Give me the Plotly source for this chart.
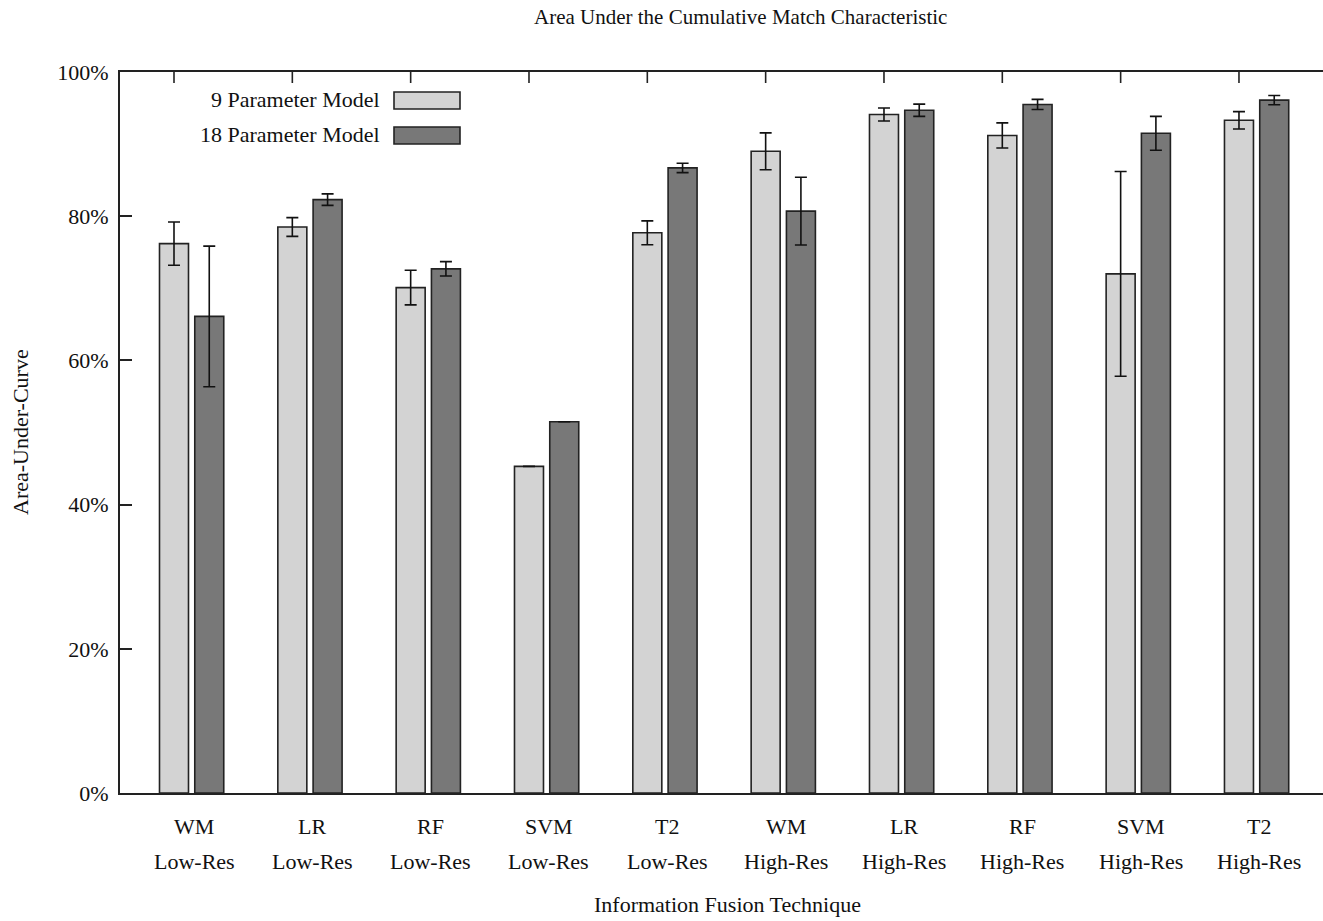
import plotly.graph_objects as go

# Fusion techniques (two-line category labels)
techniques = ["WM", "LR", "RF", "SVM", "T2", "WM", "LR", "RF", "SVM", "T2"]
resolutions = ["Low-Res"] * 5 + ["High-Res"] * 5

# Area under the CMC curve (%) and error half-widths
auc_9 = [76.2, 78.5, 70.1, 45.3, 77.7, 89.0, 94.1, 91.2, 72.0, 93.3]
err_9 = [3.0, 1.3, 2.4, 0.0, 1.65, 2.55, 0.9, 1.75, 14.2, 1.2]
auc_18 = [66.1, 82.3, 72.7, 51.5, 86.7, 80.7, 94.7, 95.5, 91.5, 96.1]
err_18 = [9.75, 0.8, 1.0, 0.0, 0.65, 4.7, 0.85, 0.7, 2.35, 0.65]

series_names = ["9 Parameter Model", "18 Parameter Model"]
y_ticks = [0, 20, 40, 60, 80, 100]

FONT = "Liberation Serif"
FS = 22
INK = "#222222"
LIGHT = "#d3d3d3"
DARK = "#787878"

BAR_W = 0.245
OFFSET = 0.298
PLOT_L, PLOT_R, PLOT_T, PLOT_B = 120, 1323, 72, 793
W, H = 1323, 921

groups = list(range(len(techniques)))
x_light = [g for g in groups]
x_dark = [g + OFFSET for g in groups]

fig = go.Figure()
for xs, vals, errs, color, name in [
    (x_light, auc_9, err_9, LIGHT, series_names[0]),
    (x_dark, auc_18, err_18, DARK, series_names[1]),
]:
    fig.add_trace(go.Bar(
        x=xs, y=vals, width=BAR_W, name=name,
        marker=dict(color=color, line=dict(color=INK, width=1.6)),
        error_y=dict(type="data", array=errs, visible=True,
                     color="#111111", thickness=1.6, width=6),
        showlegend=False,
    ))

# pixel -> axis helpers
px_per_group = 118.33
x0_px = 174.0
x_range = [(PLOT_L - x0_px) / px_per_group, (PLOT_R - x0_px) / px_per_group]
plot_h = PLOT_B - PLOT_T
plot_w = PLOT_R - PLOT_L


def py(p):
    return (PLOT_B - p) / plot_h


def px(p):
    return (p - PLOT_L) / plot_w


shapes = []
# top-edge ticks at the first bar of each cluster
for g in x_light:
    shapes.append(dict(type="line", xref="x", yref="paper", x0=g, x1=g,
                       y0=1, y1=1 - 11 / plot_h,
                       line=dict(color=INK, width=1.6)))

annotations = []
# category labels
for g, t, r in zip(groups, techniques, resolutions):
    xc = g + OFFSET / 2 + 0.02
    annotations.append(dict(x=xc, y=py(826), xref="x", yref="paper", text=t,
                            showarrow=False, xanchor="center", yanchor="middle",
                            font=dict(family=FONT, size=FS, color="#111")))
    annotations.append(dict(x=xc, y=py(861), xref="x", yref="paper", text=r,
                            showarrow=False, xanchor="center", yanchor="middle",
                            font=dict(family=FONT, size=FS, color="#111")))

# legend: text on the left, swatch on the right
for name, color, yc, ytop, ybot in [
    (series_names[0], LIGHT, 100, 92, 109),
    (series_names[1], DARK, 135, 127, 144),
]:
    annotations.append(dict(x=px(382), y=py(yc), xref="paper", yref="paper",
                            text=name, showarrow=False, xanchor="right",
                            yanchor="middle",
                            font=dict(family=FONT, size=FS, color="#111")))
    shapes.append(dict(type="rect", xref="paper", yref="paper",
                       x0=px(394), x1=px(460), y0=py(ybot), y1=py(ytop),
                       fillcolor=color, line=dict(color=INK, width=1.6)))

# titles
annotations.append(dict(x=px(740), y=py(17), xref="paper", yref="paper",
                        text="Area Under the Cumulative Match Characteristic",
                        showarrow=False, xanchor="center", yanchor="middle",
                        font=dict(family=FONT, size=21, color="#111")))
annotations.append(dict(x=px(727), y=py(H - 2), xref="paper", yref="paper",
                        text="Information Fusion Technique",
                        showarrow=False, xanchor="center", yanchor="bottom",
                        font=dict(family=FONT, size=FS, color="#111")))
annotations.append(dict(x=px(20), y=py(432), xref="paper", yref="paper",
                        text="Area-Under-Curve", textangle=-90,
                        showarrow=False, xanchor="center", yanchor="middle",
                        font=dict(family=FONT, size=FS, color="#111")))

fig.update_layout(
    width=W, height=H,
    margin=dict(l=PLOT_L, r=W - PLOT_R, t=PLOT_T, b=H - PLOT_B, pad=0),
    paper_bgcolor="white", plot_bgcolor="white",
    barmode="overlay",
    shapes=shapes, annotations=annotations,
    showlegend=False,
    xaxis=dict(range=x_range, showgrid=False, zeroline=False,
               showticklabels=False, ticks="",
               showline=True, mirror=True, linecolor=INK, linewidth=2),
    yaxis=dict(range=[0, 100], tickvals=y_ticks,
               ticktext=[f"{v}%" for v in y_ticks],
               ticks="inside", ticklen=12, tickwidth=1.6, tickcolor=INK,
               showgrid=False, zeroline=False,
               showline=True, mirror=False, linecolor=INK, linewidth=2,
               tickfont=dict(family=FONT, size=FS, color="#111"),
               ticklabelstandoff=5),
)

fig.write_html("out.html")
